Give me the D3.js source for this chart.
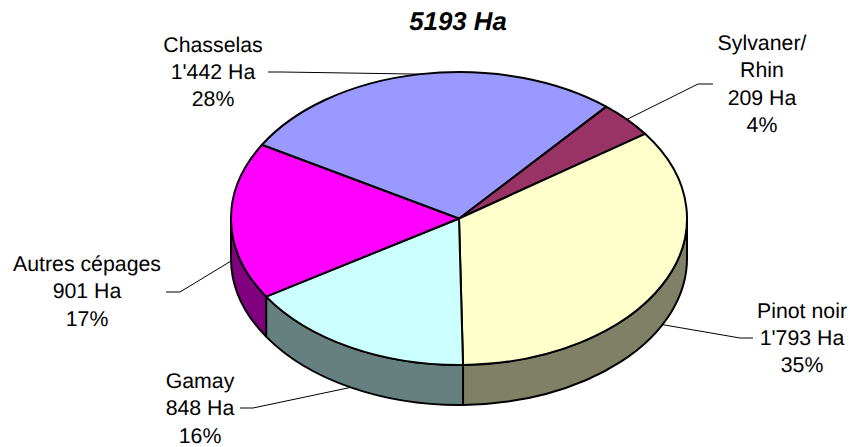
<!DOCTYPE html>
<html><head><meta charset="utf-8"><style>html,body{margin:0;padding:0;background:#fff}svg{display:block}text{font-family:"Liberation Sans",Arial,sans-serif;fill:#000;text-rendering:geometricPrecision}</style>
<script src="https://cdn.jsdelivr.net/npm/d3@7/dist/d3.min.js"></script></head><body><script>
const categories = ["Sylvaner/\nRhin","Pinot noir","Gamay","Autres cépages","Chasselas"];
const hectares = [209,1793,848,901,1442];
const haLabels = ["209 Ha","1'793 Ha","848 Ha","901 Ha","1'442 Ha"];
const percentLabels = ["4%","35%","16%","17%","28%"];
const topColors = ["#993366","#FFFFCC","#CCFFFF","#FF00FF","#9999FF"];
const wallColors = ["#4d1a33","#808066","#668080","#800080","#4d4d80"];
const titleText = "5193 Ha";

const W=850,H=447,cx=459,cy=218.5,rx=228,ry=146.5,depth=40;
const fontSize=21.3, lineH=27.4;
// label layout: centre x, first baseline y, leader start and elbow
const labelLayout=[
 {x:762,y:50,l:[713,84],e:[698,84],wall:false},
 {x:802,y:317.5,l:[753,338],e:[740,338],wall:true},
 {x:200,y:388,l:[240,408],e:[253,408],wall:true},
 {x:87,y:271,l:[166,292],e:[180,292],wall:true},
 {x:213,y:51.5,l:[268,72],e:[282,72],wall:false}];

const sx=d3.scaleLinear().domain([-1,1]).range([cx-rx,cx+rx]);
const sy=d3.scaleLinear().domain([-1,1]).range([cy-ry,cy+ry]);
const px=a=>sx(Math.sin(a)), py=a=>sy(-Math.cos(a));
const start=40.2*Math.PI/180;
const pie=d3.pie().sort(null).startAngle(start).endAngle(start+2*Math.PI);
const arcs=pie(hectares);
const svg=d3.select("body").append("svg").attr("width",W).attr("height",H);
const SW=2;

// leaders first, so the pie covers their ends
arcs.forEach((d,i)=>{
  const m=(d.startAngle+d.endAngle)/2, L=labelLayout[i];
  const pts=[L.l,L.e,[px(m),py(m)+(L.wall?depth:0)]];
  svg.append("path").attr("d",d3.line()(pts)).attr("fill","none").attr("stroke","#000").attr("stroke-width",1);
});

// walls
const lo=Math.PI/2, hi=3*Math.PI/2;
arcs.forEach((d,i)=>{
  const a0=Math.max(d.startAngle,lo), a1=Math.min(d.endAngle,hi);
  if(a1<=a0) return;
  const p=`M${px(a0)},${py(a0)}A${rx},${ry} 0 0 1 ${px(a1)},${py(a1)}L${px(a1)},${py(a1)+depth}A${rx},${ry} 0 0 0 ${px(a0)},${py(a0)+depth}Z`;
  svg.append("path").attr("d",p).attr("fill",wallColors[i]).attr("stroke","#000").attr("stroke-width",SW).attr("stroke-linejoin","round");
});
// top slices
arcs.forEach((d,i)=>{
  const large=d.endAngle-d.startAngle>Math.PI?1:0;
  const p=`M${cx},${cy}L${px(d.startAngle)},${py(d.startAngle)}A${rx},${ry} 0 ${large} 1 ${px(d.endAngle)},${py(d.endAngle)}Z`;
  svg.append("path").attr("d",p).attr("fill",topColors[i]).attr("stroke","#000").attr("stroke-width",SW).attr("stroke-linejoin","round");
});
// labels
arcs.forEach((d,i)=>{
  const lines=[...categories[i].split("\n"),haLabels[i],percentLabels[i]], L=labelLayout[i];
  lines.forEach((t,k)=>svg.append("text").attr("x",L.x).attr("y",L.y+k*lineH).attr("text-anchor","middle").attr("font-size",fontSize).text(t));
});
svg.append("text").attr("x",458).attr("y",30).attr("text-anchor","middle").attr("font-size",25.8).attr("font-weight","bold").attr("font-style","italic").text(titleText);
</script></body></html>
